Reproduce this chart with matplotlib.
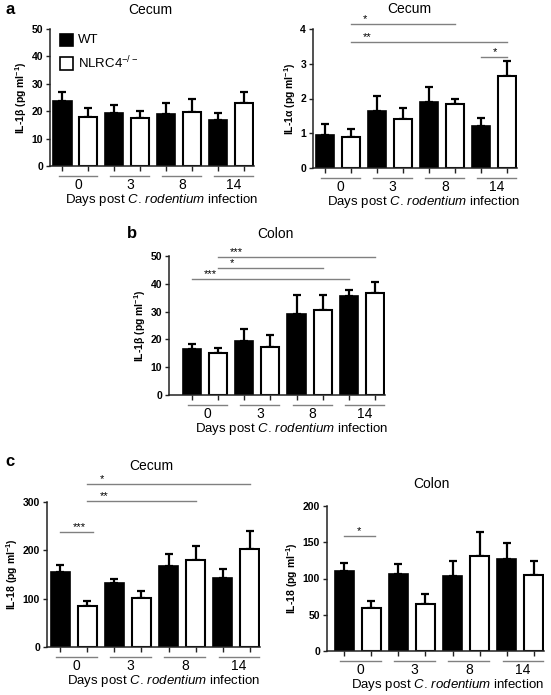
import matplotlib
matplotlib.use("Agg")
import matplotlib.pyplot as plt
import matplotlib.transforms as mtransforms
from matplotlib.patches import Rectangle
import numpy as np

# -----------------------------
# Data
# -----------------------------
days = ["0", "3", "8", "14"]

# a, left: IL-1beta cecum
il1b_cecum_wt = [23.8, 19.2, 18.8, 16.7]
il1b_cecum_wt_err = [3.1, 3.0, 4.1, 2.5]
il1b_cecum_ko = [18.0, 17.6, 19.8, 23.1]
il1b_cecum_ko_err = [3.0, 2.4, 4.6, 3.8]

# a, right: IL-1alpha cecum
il1a_cecum_wt = [0.95, 1.65, 1.90, 1.20]
il1a_cecum_wt_err = [0.33, 0.43, 0.43, 0.23]
il1a_cecum_ko = [0.88, 1.42, 1.85, 2.64]
il1a_cecum_ko_err = [0.25, 0.30, 0.15, 0.43]
il1a_cecum_sig = [(1, 5, 4.14, "*"), (1, 7, 3.62, "**"), (6, 7, 3.19, "*")]

# b: IL-1beta colon
il1b_colon_wt = [16.4, 19.5, 29.3, 35.5]
il1b_colon_wt_err = [1.9, 4.2, 6.6, 2.4]
il1b_colon_ko = [15.2, 17.1, 30.5, 36.6]
il1b_colon_ko_err = [1.7, 4.4, 5.4, 3.9]
il1b_colon_sig = [(1, 7, 49.5, "***"), (1, 5, 45.7, "*"), (0, 6, 41.6, "***")]

# c, left: IL-18 cecum
il18_cecum_wt = [155, 131.7, 167, 143.4]
il18_cecum_wt_err = [14, 8.3, 25, 18.6]
il18_cecum_ko = [85.5, 102, 180.7, 203.4]
il18_cecum_ko_err = [9, 13, 27.3, 37.6]
il18_cecum_sig = [(1, 7, 337, "*"), (1, 5, 302, "**"), (0, 1.2, 238, "***")]

# c, right: IL-18 colon
il18_colon_wt = [109.9, 105.7, 103.4, 127.4]
il18_colon_wt_err = [11, 14.3, 21.2, 21.6]
il18_colon_ko = [59.3, 64.4, 131, 105.3]
il18_colon_ko_err = [9.7, 14.6, 33.6, 18.4]
il18_colon_sig = [(0, 1.15, 159, "*")]

# -----------------------------
# Style
# -----------------------------
plt.rcParams["font.family"] = ["Liberation Sans", "DejaVu Sans"]
plt.rcParams["mathtext.fontset"] = "custom"
plt.rcParams["mathtext.rm"] = "Liberation Sans"
plt.rcParams["mathtext.it"] = "Liberation Sans:italic"
plt.rcParams["mathtext.bf"] = "Liberation Sans:bold"

W, H = 551, 695
DPI = 100
SPINE = "#222222"
GREY = "#808080"

fig = plt.figure(figsize=(W / DPI, H / DPI), dpi=DPI)


def make_axes(left, right, top, bottom):
    """Axes from pixel edges (origin top-left)."""
    return fig.add_axes([left / W, 1 - bottom / H, (right - left) / W, (bottom - top) / H])


def px_offset(dy_px):
    return mtransforms.ScaledTranslation(0, dy_px / DPI, fig.dpi_scale_trans)


def fig_text(x_px, y_px, s, **kw):
    fig.text(x_px / W, 1 - y_px / H, s, **kw)


def bar_panel(ax, wt, wt_err, ko, ko_err, ymax, ystep, ylabel, xleft, sig=()):
    x_wt = np.arange(4) * 2
    x_ko = x_wt + 1
    w = 0.7
    ax.bar(x_wt, wt, w, color="black", edgecolor="black", linewidth=1.2, zorder=2)
    ax.bar(x_ko, ko, w, color="white", edgecolor="black", linewidth=1.5, zorder=2)
    # upper error bars only
    for xs, vals, errs in ((x_wt, wt, wt_err), (x_ko, ko, ko_err)):
        ax.errorbar(xs, vals, yerr=[np.zeros(4), errs], fmt="none", ecolor="black",
                    elinewidth=1.6, capsize=3.2, capthick=1.6, zorder=1)

    ax.set_xlim(xleft, 7.38)
    ax.set_ylim(0, ymax)
    ax.set_yticks(np.arange(0, ymax + ystep / 2, ystep))
    ax.tick_params(axis="y", labelsize=7.5, length=3, width=1, color=SPINE, pad=2)
    for t in ax.get_yticklabels():
        t.set_fontweight("bold")
    ax.set_xticks(np.arange(8))
    ax.tick_params(axis="x", length=3.5, width=1, color=SPINE, labelbottom=False)
    for s in ("top", "right"):
        ax.spines[s].set_visible(False)
    for s in ("left", "bottom"):
        ax.spines[s].set_color(SPINE)
        ax.spines[s].set_linewidth(1.1)

    # group underlines + day labels
    base = ax.get_xaxis_transform()
    for i, d in enumerate(days):
        x0, x1 = 2 * i - 0.15, 2 * i + 1.35
        ax.plot([x0, x1], [0, 0], color=GREY, lw=1, clip_on=False,
                transform=base + px_offset(-10))
        ax.text((x0 + x1) / 2, 0, d, ha="center", va="center", fontsize=10,
                transform=base + px_offset(-19))
    ax.text(3.8, 0, r"Days post $\mathit{C.\,rodentium}$ infection",
            ha="center", va="center", fontsize=9.5, transform=base + px_offset(-34))

    ax.set_ylabel(ylabel, fontsize=7.5, fontweight="bold", labelpad=2)

    # significance brackets
    for x0, x1, y, star in sig:
        ax.plot([x0, x1], [y, y], color=GREY, lw=1, clip_on=False)
        ax.text(x0 + 0.45, y, star, ha="left", va="bottom", fontsize=8, clip_on=False)


ylab_b = r"IL-1β (pg ml$\mathbf{^{-1}}$)"
ylab_a = r"IL-1α (pg ml$\mathbf{^{-1}}$)"
ylab_18 = r"IL-18 (pg ml$\mathbf{^{-1}}$)"

# -----------------------------
# Panels
# -----------------------------
ax1 = make_axes(50, 254, 29, 166)
bar_panel(ax1, il1b_cecum_wt, il1b_cecum_wt_err, il1b_cecum_ko, il1b_cecum_ko_err,
          50, 10, ylab_b, -0.48)

ax2 = make_axes(313, 517, 29, 168)
bar_panel(ax2, il1a_cecum_wt, il1a_cecum_wt_err, il1a_cecum_ko, il1a_cecum_ko_err,
          4, 1, ylab_a, -0.47, il1a_cecum_sig)

ax3 = make_axes(169, 385, 256, 395)
bar_panel(ax3, il1b_colon_wt, il1b_colon_wt_err, il1b_colon_ko, il1b_colon_ko_err,
          50, 10, ylab_b, -0.87, il1b_colon_sig)

ax4 = make_axes(47, 260, 502, 647)
bar_panel(ax4, il18_cecum_wt, il18_cecum_wt_err, il18_cecum_ko, il18_cecum_ko_err,
          300, 100, ylab_18, -0.49, il18_cecum_sig)

ax5 = make_axes(327, 544, 506, 651)
bar_panel(ax5, il18_colon_wt, il18_colon_wt_err, il18_colon_ko, il18_colon_ko_err,
          200, 50, ylab_18, -0.64, il18_colon_sig)

# panel titles (placed in pixels)
for x, y, s in ((150, 10, "Cecum"), (409, 9, "Cecum"), (275, 234, "Colon"),
                (151, 466, "Cecum"), (431, 484, "Colon")):
    fig_text(x, y, s, fontsize=10, ha="center", va="center")

# legend in panel a, left
for k, (fc, lab) in enumerate((("black", "WT"), ("white", r"NLRC4$^{-/-}$"))):
    y = 0.92 - k * 0.17
    ax1.add_patch(Rectangle((0.05, y - 0.047), 0.064, 0.094, transform=ax1.transAxes,
                            facecolor=fc, edgecolor="black", lw=1.2, clip_on=False))
    ax1.text(0.137, y, lab, transform=ax1.transAxes, ha="left", va="center", fontsize=9.5)

# panel letters
fig_text(5, 9, "a", fontsize=12, fontweight="bold", va="center")
fig_text(127, 233, "b", fontsize=12, fontweight="bold", va="center")
fig_text(5, 462, "c", fontsize=12, fontweight="bold", va="center")

fig.savefig("out.png", dpi=DPI)
